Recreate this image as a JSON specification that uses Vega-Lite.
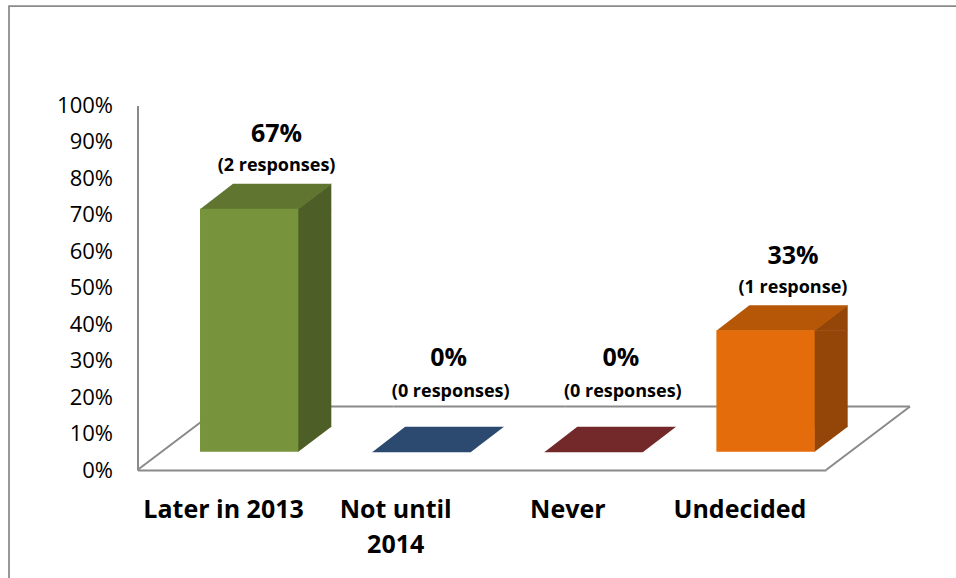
{
  "$schema": "https://vega.github.io/schema/vega-lite/v6.json",
  "width": 949,
  "height": 574,
  "autosize": {"type": "none"},
  "padding": {"left": 9, "top": 6, "right": -2, "bottom": -2},
  "background": "white",
  "config": {"view": {"stroke": "#8a8a8a", "strokeWidth": 1.75}, "font": "Open Sans"},
  "data": {"values": [
    {"answer": "Later in 2013", "share": 0.6667, "note": "(2 responses)"},
    {"answer": "Not until 2014", "share": 0, "note": "(0 responses)"},
    {"answer": "Never", "share": 0, "note": "(0 responses)"},
    {"answer": "Undecided", "share": 0.3333, "note": "(1 response)"}
  ]},
  "encoding": {
    "x": {
      "field": "answer", "type": "nominal", "sort": null,
      "scale": {"range": [128.5, 817], "paddingInner": 0, "paddingOuter": 0},
      "axis": {
        "title": null, "orient": "bottom", "offset": -110,
        "domain": true, "domainColor": "#8a8a8a", "domainWidth": 2,
        "ticks": false, "tickSize": 0, "grid": false,
        "labelPadding": 47, "labelBaseline": "alphabetic",
        "labelFont": "Open Sans", "labelFontSize": 25, "labelFontWeight": "bold",
        "labelColor": "#000000", "labelAngle": 0, "labelLimit": 0, "labelOverlap": false,
        "labelLineHeight": 35,
        "labelExpr": "datum.label == 'Not until 2014' ? ['Not until', '2014'] : datum.label"
      }
    },
    "y": {
      "field": "share", "type": "quantitative",
      "scale": {"domain": [0, 1], "range": [464, 99.5]},
      "axis": {
        "title": null, "offset": -128.5,
        "values": [0, 0.1, 0.2, 0.3, 0.4, 0.5, 0.6, 0.7, 0.8, 0.9, 1],
        "format": ".0%", "grid": false,
        "domain": true, "domainColor": "#8a8a8a", "domainWidth": 2,
        "ticks": false, "tickSize": 0,
        "labelPadding": 25, "labelFont": "Open Sans", "labelFontSize": 22,
        "labelColor": "#000000"
      }
    }
  },
  "layer": [
    {
      "mark": {"type": "bar", "width": {"band": 1}, "fill": "transparent", "stroke": "#8a8a8a", "strokeWidth": 2, "xOffset": 84, "yOffset": -63.5, "y2Offset": -63.5},
      "encoding": {"y": {"datum": 0}, "y2": {"datum": 0}}
    },
    {
      "transform": [{"filter": "datum.answer == 'Later in 2013'"}],
      "mark": {"type": "point", "shape": "M 0 0 L 1 -0.756 Z", "size": 28224, "filled": false, "stroke": "#8a8a8a", "strokeWidth": 2, "opacity": 1, "xOffset": -86.1},
      "encoding": {"y": {"datum": 0}}
    },
    {
      "transform": [{"filter": "datum.answer == 'Undecided'"}],
      "mark": {"type": "point", "shape": "M 0 0 L 1 -0.756 Z", "size": 28224, "filled": false, "stroke": "#8a8a8a", "strokeWidth": 2, "opacity": 1, "xOffset": 86.1},
      "encoding": {"y": {"datum": 0}}
    },
    {
      "transform": [{"filter": "datum.share > 0"}],
      "mark": {"type": "bar", "width": 34, "xOffset": 90.75, "yOffset": -18.3, "y2Offset": -43.3},
      "encoding": {
        "y2": {"datum": 0},
        "color": {"field": "answer", "type": "nominal", "legend": null,
          "scale": {"domain": ["Later in 2013", "Not until 2014", "Never", "Undecided"], "range": ["#4d5f27", "#24405f", "#62241f", "#944608"]}}
      }
    },
    {
      "transform": [{"filter": "datum.share > 0"}],
      "mark": {"type": "point", "shape": "M 0.497 0.19 L 1 -0.19 L 1 0.2 L 0.49 0.2 Z", "size": 17240, "filled": true, "opacity": 1, "strokeWidth": 0, "xOffset": 42.1, "yOffset": -30.8},
      "encoding": {
        "color": {"field": "answer", "type": "nominal", "legend": null,
          "scale": {"domain": ["Later in 2013", "Not until 2014", "Never", "Undecided"], "range": ["#4d5f27", "#24405f", "#62241f", "#944608"]}}
      }
    },
    {
      "transform": [{"filter": "datum.share > 0"}],
      "mark": {"type": "point", "shape": "M 0.49 -0.2 L 1 -0.2 L 1 -0.19 L 0.497 0.19 L 0.49 0.19 Z", "size": 17240, "filled": true, "opacity": 1, "strokeWidth": 0, "xOffset": 42.1, "yOffset": -30.8},
      "encoding": {
        "y": {"datum": 0},
        "color": {"field": "answer", "type": "nominal", "legend": null,
          "scale": {"domain": ["Later in 2013", "Not until 2014", "Never", "Undecided"], "range": ["#4d5f27", "#24405f", "#62241f", "#944608"]}}
      }
    },
    {
      "mark": {"type": "point", "shape": "M -1 0.2 L 0.5 0.2 L 1.008 -0.19 L -0.497 -0.19 Z", "size": 17240, "filled": true, "opacity": 1, "strokeWidth": 0, "xOffset": 42.1, "yOffset": -30.8},
      "encoding": {
        "color": {"field": "answer", "type": "nominal", "legend": null,
          "scale": {"domain": ["Later in 2013", "Not until 2014", "Never", "Undecided"], "range": ["#5f7530", "#2c4a70", "#73292a", "#b65708"]}}
      }
    },
    {
      "transform": [{"filter": "datum.share > 0"}],
      "mark": {"type": "bar", "width": 98.3, "xOffset": 25.6, "yOffset": -18.3, "y2Offset": -18.3},
      "encoding": {
        "y2": {"datum": 0},
        "color": {"field": "answer", "type": "nominal", "legend": null,
          "scale": {"domain": ["Later in 2013", "Not until 2014", "Never", "Undecided"], "range": ["#77933c", "#376092", "#953735", "#e46c0a"]}}
      }
    },
    {
      "transform": [{"filter": "datum.share > 0"}],
      "mark": {"type": "text", "font": "Open Sans", "fontSize": 25, "fontWeight": "bold", "color": "#000000", "baseline": "alphabetic", "align": "center", "dx": 53, "dy": -84.5},
      "encoding": {"text": {"field": "share", "type": "quantitative", "format": ".0%"}}
    },
    {
      "transform": [{"filter": "datum.share > 0"}],
      "mark": {"type": "text", "font": "Open Sans", "fontSize": 18, "fontWeight": "bold", "color": "#000000", "baseline": "alphabetic", "align": "center", "dx": 53, "dy": -56},
      "encoding": {"text": {"field": "note", "type": "nominal"}}
    },
    {
      "transform": [{"filter": "datum.share == 0"}],
      "mark": {"type": "text", "font": "Open Sans", "fontSize": 25, "fontWeight": "bold", "color": "#000000", "baseline": "alphabetic", "align": "center", "dx": 53, "dy": -104},
      "encoding": {"text": {"field": "share", "type": "quantitative", "format": ".0%"}}
    },
    {
      "transform": [{"filter": "datum.share == 0"}],
      "mark": {"type": "text", "font": "Open Sans", "fontSize": 18, "fontWeight": "bold", "color": "#000000", "baseline": "alphabetic", "align": "center", "dx": 55, "dy": -73.3},
      "encoding": {"text": {"field": "note", "type": "nominal"}}
    }
  ],
  "resolve": {"scale": {"color": "independent"}}
}
